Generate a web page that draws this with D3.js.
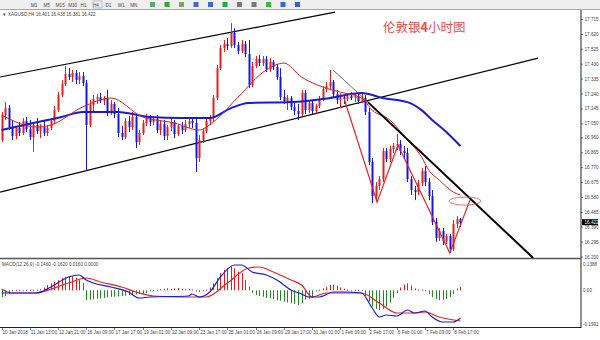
<!DOCTYPE html>
<html lang="zh">
<head>
<meta charset="UTF-8">
<title>XAGUSD H4</title>
<script src="https://cdn.jsdelivr.net/npm/d3@7"></script>
<style>
  body { margin: 0; background: #fff; }
  svg { display: block; font-family: "Liberation Sans", "DejaVu Sans", sans-serif; }
  .lbl { font-size: 4.6px; fill: #444; }
  .title { font-family: "Noto Sans CJK SC", sans-serif; font-size: 12.5px; fill: #f04a4a; }
</style>
</head>
<body>
<script>
// H4 candles: [open, high, low, close]
const ohlc = [
  [16.946,17.125,16.933,17.106],[17.106,17.188,17.074,17.150],[17.150,17.169,17.010,17.029],[17.029,17.074,16.946,16.972],
  [16.972,17.035,16.952,17.023],[17.023,17.061,16.972,16.991],[16.991,17.086,16.978,17.067],[17.067,17.093,16.997,17.016],
  [17.016,17.074,16.946,16.965],[16.965,17.061,16.870,17.042],[17.042,17.086,16.984,17.003],[17.003,17.048,16.959,17.029],
  [17.029,17.074,16.972,16.991],[16.991,17.042,16.972,17.023],[17.023,17.086,17.010,17.067],[17.067,17.163,17.048,17.137],
  [17.137,17.252,17.125,17.233],[17.233,17.329,17.220,17.303],[17.303,17.418,17.290,17.367],[17.367,17.405,17.329,17.348],
  [17.348,17.393,17.316,17.373],[17.373,17.393,17.303,17.329],[17.329,17.380,17.303,17.354],[17.354,17.380,17.290,17.310],
  [17.310,17.329,16.755,17.042],[17.042,17.201,17.029,17.169],[17.169,17.233,17.125,17.208],[17.208,17.239,17.176,17.220],
  [17.220,17.246,17.182,17.195],[17.195,17.227,17.169,17.214],[17.214,17.265,17.099,17.118],[17.118,17.201,17.106,17.176],
  [17.176,17.188,17.086,17.112],[17.112,17.150,16.965,16.991],[16.991,17.035,16.946,16.965],[16.965,17.086,16.952,17.067],
  [17.067,17.099,16.997,17.029],[17.029,17.125,17.010,17.093],[17.093,17.112,16.895,16.933],[16.933,17.010,16.914,16.991],
  [16.991,17.074,16.978,17.055],[17.055,17.112,17.035,17.086],[17.086,17.106,17.035,17.061],[17.061,17.093,17.042,17.080],
  [17.080,17.106,16.991,17.010],[17.010,17.074,16.978,17.048],[17.048,17.074,16.946,16.972],[16.972,17.042,16.946,17.029],
  [17.029,17.086,17.003,17.061],[17.061,17.074,16.959,16.984],[16.984,17.048,16.972,17.035],[17.035,17.061,16.984,17.010],
  [17.010,17.074,16.997,17.048],[17.048,17.080,17.023,17.067],[17.067,17.086,17.023,17.055],[17.055,17.086,16.742,16.831],
  [16.831,16.978,16.806,16.946],[16.946,17.023,16.927,17.003],[17.003,17.086,16.991,17.067],[17.067,17.106,17.042,17.086],
  [17.086,17.233,17.061,17.214],[17.214,17.424,17.201,17.405],[17.405,17.552,17.393,17.533],[17.533,17.584,17.507,17.558],
  [17.558,17.597,17.520,17.546],[17.546,17.692,17.533,17.629],[17.629,17.660,17.533,17.552],[17.552,17.571,17.495,17.514],
  [17.514,17.584,17.501,17.558],[17.558,17.577,17.475,17.495],[17.495,17.584,17.278,17.297],[17.297,17.444,17.284,17.418],
  [17.418,17.482,17.405,17.463],[17.463,17.488,17.418,17.437],[17.437,17.482,17.418,17.463],[17.463,17.482,17.380,17.399],
  [17.399,17.469,17.380,17.444],[17.444,17.456,17.393,17.412],[17.412,17.431,17.329,17.348],[17.348,17.405,17.201,17.220],
  [17.220,17.265,17.176,17.195],[17.195,17.233,17.137,17.214],[17.214,17.227,17.137,17.157],[17.157,17.188,17.106,17.131],
  [17.131,17.176,17.074,17.112],[17.112,17.265,17.099,17.246],[17.246,17.265,17.112,17.137],[17.137,17.201,17.118,17.182],
  [17.182,17.201,17.112,17.131],[17.131,17.176,17.118,17.163],[17.163,17.227,17.150,17.208],[17.208,17.290,17.195,17.271],
  [17.271,17.316,17.252,17.290],[17.290,17.393,17.265,17.316],[17.316,17.329,17.220,17.239],[17.239,17.265,17.176,17.201],
  [17.201,17.246,17.150,17.220],[17.220,17.233,17.176,17.208],[17.208,17.246,17.195,17.227],[17.227,17.252,17.201,17.214],
  [17.214,17.239,17.188,17.227],[17.227,17.246,17.176,17.195],[17.195,17.252,17.182,17.214],[17.214,17.233,17.106,17.125],
  [17.125,17.150,16.787,16.806],[16.806,16.831,16.544,16.589],[16.589,16.678,16.563,16.653],[16.653,16.716,16.627,16.697],
  [16.697,16.895,16.678,16.876],[16.876,16.895,16.806,16.825],[16.825,16.908,16.806,16.889],[16.889,16.927,16.863,16.908],
  [16.908,16.984,16.882,16.921],[16.921,16.946,16.850,16.876],[16.876,16.908,16.831,16.863],[16.863,16.895,16.678,16.697],
  [16.697,16.716,16.595,16.627],[16.627,16.653,16.563,16.614],[16.614,16.691,16.595,16.672],[16.672,16.767,16.653,16.748],
  [16.748,16.780,16.653,16.678],[16.678,16.704,16.563,16.589],[16.589,16.627,16.404,16.423],[16.423,16.449,16.296,16.321],
  [16.321,16.385,16.302,16.366],[16.366,16.385,16.276,16.302],[16.302,16.347,16.283,16.334],[16.334,16.347,16.225,16.251],
  [16.251,16.436,16.238,16.410],[16.410,16.461,16.385,16.442],[16.442,16.449,16.391,16.423]
];

// moving averages, read as [bar, price]
const maFast = [[0,17.106],[10,17.029],[14,17.042],[23,17.157],[31,17.214],[40,17.093],[49,17.055],[56,17.010],
  [60,17.061],[67,17.220],[75,17.393],[80,17.437],[85,17.348],[91,17.284],[96,17.252],[102,17.214],[105,17.137],
  [110,17.074],[115,16.946],[119,16.838],[121,16.755],[124,16.691],[128,16.614],[130,16.595]];
const maSlow = [[0,17.010],[9,17.055],[17,17.093],[23,17.125],[33,17.125],[42,17.093],[51,17.086],[59,17.086],
  [65,17.150],[70,17.182],[82,17.188],[93,17.214],[102,17.246],[108,17.214],[115,17.188],[119,17.137],
  [122,17.074],[126,16.997],[130,16.908]];

// MACD(12,26,9)
const macdMain = [[0,-0.0143],[10,-0.0143],[14,0.0174],[19,0.0702],[22,0.0808],[24,0.0544],[26,0.0385],[31,0.0174],
  [36,-0.0090],[39,-0.0407],[42,-0.0354],[53,-0.0301],[54,-0.0195],[56,-0.0354],[59,-0.0090],[62,0.0702],
  [66,0.1336],[68,0.1336],[71,0.0966],[75,0.0808],[78,0.0544],[82,0.0016],[85,-0.0195],[87,-0.0354],[90,-0.0354],
  [94,-0.0090],[97,-0.0090],[102,-0.0143],[105,-0.0935],[107,-0.1410],[109,-0.1304],[112,-0.1357],[115,-0.1040],
  [117,-0.1199],[120,-0.1093],[122,-0.1410],[125,-0.1674],[128,-0.1674],[130,-0.1463]];
const macdSignal = [[0,0.0069],[3,-0.0143],[9,-0.0143],[19,0.0385],[24,0.0649],[28,0.0438],[34,0.0174],[39,-0.0143],
  [43,-0.0301],[51,-0.0354],[58,-0.0354],[64,0.0385],[70,0.1177],[73,0.1230],[77,0.0966],[82,0.0544],[85,0.0280],
  [88,-0.0354],[92,-0.0143],[97,-0.0143],[102,-0.0143],[107,-0.0671],[112,-0.1199],[117,-0.1199],[120,-0.1146],
  [124,-0.1410],[130,-0.1621]];
const macdHist = [-0.035,-0.030,-0.020,-0.004,0.003,0.003,-0.003,0.003,0.003,0.003,0.004,0.006,0.015,0.028,0.037,0.045,
  0.054,0.065,0.072,0.075,0.072,0.065,0.054,0.038,-0.051,-0.050,-0.048,-0.045,-0.043,-0.040,-0.038,-0.035,-0.034,-0.032,
  -0.030,-0.028,-0.026,-0.024,-0.022,-0.020,-0.018,-0.015,-0.004,-0.003,0.003,0.006,0.008,0.010,0.008,0.010,0.012,0.008,
  0.006,0.008,0.004,-0.006,-0.008,-0.005,0.004,0.015,0.037,0.063,0.090,0.107,0.116,0.125,0.116,0.098,0.090,0.054,0.019,
  -0.013,-0.025,-0.030,-0.034,-0.040,-0.042,-0.046,-0.051,-0.055,-0.060,-0.064,-0.069,-0.072,-0.078,-0.069,-0.048,-0.045,
  -0.040,-0.004,0.003,0.010,0.018,0.028,0.030,0.025,0.015,0.008,0.003,-0.003,0.003,0.003,-0.003,-0.030,-0.060,-0.085,
  -0.098,-0.104,-0.098,-0.085,-0.065,-0.040,-0.015,0.015,0.030,0.037,0.025,0.010,0.004,0.003,-0.004,-0.020,-0.035,-0.045,
  -0.051,-0.050,-0.045,-0.035,-0.020,0.010,0.018];

// drawn objects, [bar, price]
const channelTop = [[-0.4,17.348],[94.5,17.762]];
const channelBottom = [[-0.4,16.614],[152,17.469]];
const trendThin = [[93.9,17.393],[104.4,17.176]];
const trendThick = [[103.8,17.188],[150.6,16.194]];
const zigzag = [[97,17.214],[106.4,16.550],[112.3,16.914],[127,16.225],[132.7,16.563]];
const ellipseAt = [131.3,16.557];

const priceTicks = [17.715,17.620,17.525,17.430,17.335,17.240,17.145,17.050,16.960,16.865,16.770,16.675,16.580,16.485,16.390,16.295,16.200];
const macdTicks = [0.1388,0,-0.1991];
const timeLabels = ['10 Jan 2018','11 Jan 13:00','12 Jan 21:00','16 Jan 09:00','17 Jan 17:00','19 Jan 01:00','22 Jan 09:00',
  '23 Jan 17:00','25 Jan 01:00','26 Jan 09:00','29 Jan 17:00','31 Jan 01:00','1 Feb 09:00','2 Feb 17:00','6 Feb 01:00',
  '7 Feb 09:00','8 Feb 17:00'];
const periods = ['M1','M5','M15','M30','H1','H4','D1','W1','MN'];
const header = '\u25BC XAGUSD,H4  16.401 16.438 16.381 16.422';
const macdHeader = 'MACD(12,26,9) -0.1460 -0.1620 0.0160 0.0000';
const lastPrice = 16.422;

const width = 600, height = 340;
const axisX = 581;
const svg = d3.select('body').append('svg').attr('width', width).attr('height', height);

const x = d3.scaleLinear().domain([0, 130]).range([1.5, 460.4]);
const y = d3.scaleLinear().domain([16.2, 17.715]).range([257, 19.5]);
const ym = d3.scaleLinear().domain([-0.1991, 0.1388]).range([328, 264]);

// toolbar
svg.append('rect').attr('width', width).attr('height', 9).attr('fill', '#efefef');
svg.append('line').attr('x1', 0).attr('x2', width).attr('y1', 9.5).attr('y2', 9.5).attr('stroke', '#a8a8a8');
svg.selectAll('.per').data(periods).enter().append('text')
  .attr('class', 'lbl').attr('x', (d, i) => 31 + i * 12.4).attr('y', 6.5).text(d => d);
svg.append('rect').attr('x', 93).attr('y', 1).attr('width', 9).attr('height', 7).attr('fill', 'none').attr('stroke', '#99b').attr('stroke-width', 0.6);
const icons = ['#5a7', '#3a3', '#7a5', '#46c', '#46c', '#2a4', '#777', '#777', '#3b3', '#36c', '#36c'];
svg.selectAll('.ico').data(icons).enter().append('rect')
  .attr('x', (d, i) => 150 + i * 14.5).attr('y', 2).attr('width', 5).attr('height', 5).attr('fill', d => d);

// chart frame
svg.append('line').attr('x1', axisX).attr('x2', axisX).attr('y1', 10).attr('y2', 328).attr('stroke', '#222');
svg.append('line').attr('x1', 0).attr('x2', axisX).attr('y1', 258.5).attr('y2', 258.5).attr('stroke', '#555').attr('stroke-width', 1.5);
svg.append('line').attr('x1', 0).attr('x2', axisX).attr('y1', 327.5).attr('y2', 327.5).attr('stroke', '#222');

svg.append('text').attr('class', 'lbl').attr('x', 2).attr('y', 16).text(header);
svg.append('text').attr('class', 'lbl').attr('x', 2).attr('y', 266).text(macdHeader);

// price axis
svg.selectAll('.pt').data(priceTicks).enter().append('line')
  .attr('x1', axisX).attr('x2', axisX + 2).attr('y1', d => y(d)).attr('y2', d => y(d)).attr('stroke', '#222').attr('stroke-width', 0.6);
svg.selectAll('.pl').data(priceTicks).enter().append('text')
  .attr('class', 'lbl').attr('x', axisX + 3.5).attr('y', d => y(d) + 1.6).text(d => d.toFixed(3));

svg.append('rect').attr('x', axisX + 1).attr('y', y(lastPrice) - 3).attr('width', 16).attr('height', 6).attr('fill', '#000');
svg.append('text').attr('class', 'lbl').attr('x', axisX + 3.5).attr('y', y(lastPrice) + 1.6).attr('fill', '#fff').style('fill', '#fff').text(lastPrice.toFixed(3));

// macd axis
svg.selectAll('.mt').data(macdTicks).enter().append('text')
  .attr('class', 'lbl').attr('x', axisX + 2).attr('y', d => Math.min(ym(d), 324) + 1.6)
  .text(d => d === 0 ? '0.00' : d.toFixed(4));

// time axis
svg.selectAll('.tt').data(timeLabels).enter().append('line')
  .attr('x1', (d, i) => Math.round(x(i * 8)) + 0.5).attr('x2', (d, i) => Math.round(x(i * 8)) + 0.5)
  .attr('y1', 328).attr('y2', 330).attr('stroke', '#222').attr('stroke-width', 0.6);
svg.selectAll('.tl').data(timeLabels).enter().append('text')
  .attr('class', 'lbl').attr('x', (d, i) => x(i * 8) + 1).attr('y', 334).text(d => d);

// main window clip
svg.append('clipPath').attr('id', 'mainClip').append('rect').attr('x', 0).attr('y', 10).attr('width', axisX).attr('height', 248);
const main = svg.append('g').attr('clip-path', 'url(#mainClip)');

const line = d3.line().x(d => x(d[0])).y(d => y(d[1]));

main.append('path').attr('d', line(channelTop)).attr('fill', 'none').attr('stroke', '#000').attr('stroke-width', 1.2);
main.append('path').attr('d', line(channelBottom)).attr('fill', 'none').attr('stroke', '#000').attr('stroke-width', 1.2);

// candles
const up = '#ee1c1c', down = '#1414f0';
main.selectAll('.wick').data(ohlc).enter().append('line')
  .attr('x1', (d, i) => Math.round(x(i)) + 0.5).attr('x2', (d, i) => Math.round(x(i)) + 0.5)
  .attr('y1', d => y(d[1])).attr('y2', d => y(d[2]))
  .attr('stroke', d => d[3] >= d[0] ? up : down).attr('stroke-width', 1);
main.selectAll('.body').data(ohlc).enter().append('rect')
  .attr('x', (d, i) => Math.round(x(i)) - 0.5).attr('width', 2)
  .attr('y', d => y(Math.max(d[0], d[3])))
  .attr('height', d => Math.max(1, Math.abs(y(d[0]) - y(d[3]))))
  .attr('fill', d => d[3] >= d[0] ? up : down);

main.append('path').attr('d', d3.line().curve(d3.curveMonotoneX).x(d => x(d[0])).y(d => y(d[1]))(maSlow))
  .attr('fill', 'none').attr('stroke', '#1a1ad8').attr('stroke-width', 2);
main.append('path').attr('d', d3.line().curve(d3.curveMonotoneX).x(d => x(d[0])).y(d => y(d[1]))(maFast))
  .attr('fill', 'none').attr('stroke', '#e41e1e').attr('stroke-width', 1);

main.append('path').attr('d', line(trendThin)).attr('fill', 'none').attr('stroke', '#444').attr('stroke-width', 0.8);
main.append('path').attr('d', line(trendThick)).attr('fill', 'none').attr('stroke', '#000').attr('stroke-width', 2);
main.append('path').attr('d', line(zigzag)).attr('fill', 'none').attr('stroke', '#f02020').attr('stroke-width', 1.2);
main.append('ellipse').attr('cx', x(ellipseAt[0])).attr('cy', y(ellipseAt[1])).attr('rx', 16).attr('ry', 4)
  .attr('fill', 'none').attr('stroke', '#f05050').attr('stroke-width', 0.8);

svg.append('text').attr('class', 'title').attr('x', 383).attr('y', 32)
  .html('伦敦银<tspan font-weight="bold">4</tspan>小时图');

// MACD window
const macd = svg.append('g');
macd.selectAll('.hist').data(macdHist).enter().append('rect')
  .attr('x', (d, i) => Math.round(x(i)))
  .attr('width', 1)
  .attr('y', d => d >= 0 ? ym(d) : ym(0))
  .attr('height', d => Math.max(1, Math.abs(ym(d) - ym(0))))
  .attr('fill', d => d >= 0 ? '#f01818' : '#1e8a1e');
const mline = d3.line().curve(d3.curveMonotoneX).x(d => x(d[0])).y(d => ym(d[1]));
macd.append('path').attr('d', mline(macdSignal)).attr('fill', 'none').attr('stroke', '#f02020').attr('stroke-width', 1.2);
macd.append('path').attr('d', mline(macdMain)).attr('fill', 'none').attr('stroke', '#1a1ae0').attr('stroke-width', 1.2);
</script>
</body>
</html>
